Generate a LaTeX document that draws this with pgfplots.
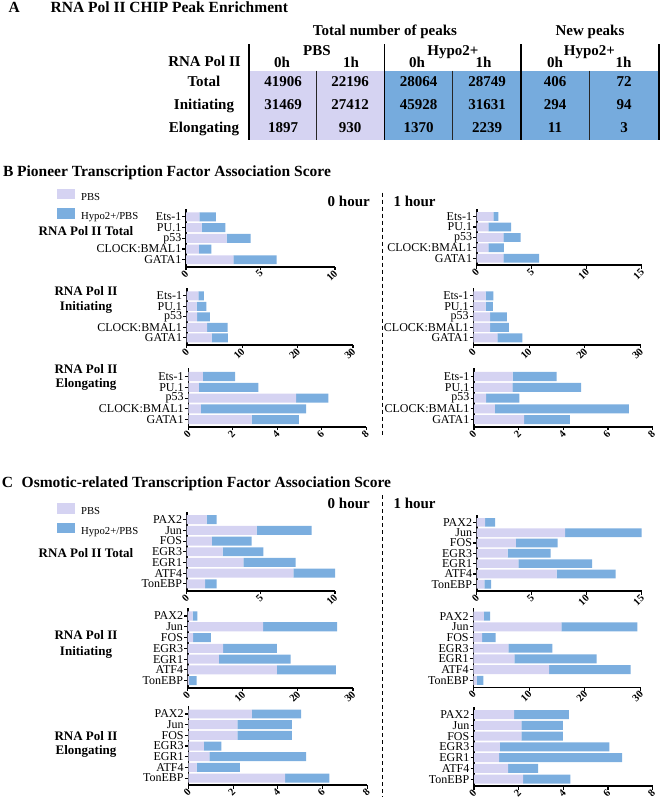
\documentclass[border=0pt]{standalone}
\usepackage{fontspec}
\setmainfont{Liberation Serif}
\usepackage{pgfplots}
\usepackage{pgfplotstable}
\pgfplotsset{compat=1.18}

\definecolor{pbs}{HTML}{D5D3F2}
\definecolor{hyp}{HTML}{7BAEDF}
\definecolor{cellpbs}{HTML}{D5D3F2}
\definecolor{cellhyp}{HTML}{76ABDD}

\newcommand{\fs}[1]{\fontsize{#1bp}{#1bp}\selectfont}

% pioneer factors, idx 0 = bottom bar (GATA1)
\pgfplotstableread{
idx pbs hyp
4 0.89 1.12
3 1.05 1.59
2 2.73 1.61
1 0.87 0.83
0 3.18 2.91
}\bTzero
\pgfplotstableread{
idx pbs hyp
4 1.52 0.45
3 1.06 2.06
2 2.42 1.58
1 1.06 1.42
0 2.42 3.25
}\bTone
\pgfplotstableread{
idx pbs hyp
4 2.1 1.0
3 1.8 1.75
2 1.9 2.3
1 3.7 3.7
0 4.5 2.95
}\bIzero
\pgfplotstableread{
idx pbs hyp
4 2.2 1.4
3 2.2 1.3
2 3.0 3.0
1 3.0 3.4
0 4.3 4.5
}\bIone
\pgfplotstableread{
idx pbs hyp
4 0.65 1.45
3 0.48 2.67
2 4.85 1.45
1 0.56 4.74
0 2.85 2.12
}\bEzero
\pgfplotstableread{
idx pbs hyp
4 1.73 1.97
3 1.72 3.08
2 0.54 1.49
1 0.93 6.00
0 2.24 2.05
}\bEone

% osmotic factors, idx 0 = bottom bar (TonEBP)
\pgfplotstableread{
idx pbs hyp
6 1.35 0.67
5 4.72 3.71
4 1.69 2.69
3 2.43 2.74
2 3.82 3.53
1 7.19 2.81
0 1.24 0.78
}\cTzero
\pgfplotstableread{
idx pbs hyp
6 0.76 0.91
5 8.03 6.97
4 3.55 3.81
3 2.82 3.91
2 3.79 6.71
1 7.27 5.37
0 0.70 0.60
}\cTone
\pgfplotstableread{
idx pbs hyp
6 0.9 0.85
5 13.7 13.4
4 1.0 3.2
3 6.45 9.75
2 5.66 13.04
1 16.2 10.7
0 0.24 1.39
}\cIzero
\pgfplotstableread{
idx pbs hyp
6 1.9 1.1
5 15.8 13.6
4 1.6 2.4
3 6.3 7.9
2 7.35 14.75
1 13.6 14.6
0 0.6 1.2
}\cIone
\pgfplotstableread{
idx pbs hyp
6 2.84 2.20
5 2.19 2.44
4 2.19 2.44
3 0.70 0.78
2 0.94 4.33
1 0.37 1.94
0 4.33 1.98
}\cEzero
\pgfplotstableread{
idx pbs hyp
6 1.80 2.45
5 2.12 1.86
4 2.12 1.86
3 1.16 4.90
2 1.13 5.50
1 1.53 1.34
0 2.20 2.11
}\cEone

\pgfplotsset{
  hbar/.style={
    xbar stacked, scale only axis, anchor=south west, clip=false,
    xmin=0, enlargelimits=false,
    axis x line*=bottom, axis y line*=left,
    axis line style={line width=1.6bp},
    tick align=outside, major tick length=3.5bp,
    major tick style={line width=1.1bp, black},
    bar width=0.84,
    /pgf/number format/assume math mode=true,
    xticklabel style={font=\bfseries\fs{10.5}, rotate=45, anchor=north east,
      inner sep=0.5bp, yshift=2.5bp},
    yticklabel style={font=\fs{12}, inner sep=1bp},
  },
  pio/.style={hbar, ymin=-0.65, ymax=4.75, ytick={0,...,4},
    yticklabels={GATA1, CLOCK:BMAL1, p53, PU.1, Ets-1}},
  osm/.style={hbar, ymin=-0.65, ymax=6.75, ytick={0,...,6},
    yticklabels={TonEBP, ATF4, EGR1, EGR3, FOS, Jun, PAX2}},
  swatch/.style={
    legend image code/.code={\fill[##1] (0bp,-2bp) rectangle (18bp,8.7bp);},
    legend style={draw=none, fill=none, font=\fs{10.7}, inner sep=0pt,
      row sep=4.5bp, cells={anchor=west},
      /tikz/every odd column/.append style={column sep=4bp}},
  },
}

\begin{document}
\begin{tikzpicture}
\path[use as bounding box] (0,0) rectangle (660bp,-799bp);

% ---------- A: table ----------
\fill[cellpbs] (250bp,-70.7bp) rectangle (384.5bp,-140bp);
\fill[cellhyp] (384.5bp,-70.7bp) rectangle (658.5bp,-140bp);
\foreach \x in {316,452.7,589.3}
  \draw[line width=0.8bp, black!85] (\x bp,-70.7bp) -- (\x bp,-140bp);
\foreach \x in {248.7,384.5,521,658.8}
  \draw[line width=1.8bp] (\x bp,-44bp) -- (\x bp,-140bp);

\begin{scope}[every node/.style={font=\bfseries\fs{15.5}, inner sep=0pt, anchor=base}]
\node[anchor=base west] at (8.4bp,-12.5bp) {A};
\node[anchor=base west] at (50.5bp,-12.5bp) {RNA Pol II CHIP Peak Enrichment};
\end{scope}
\begin{scope}[every node/.style={font=\bfseries\fs{15}, inner sep=0pt, anchor=base}]
\node at (385bp,-35bp) {Total number of peaks};
\node at (590bp,-35bp) {New peaks};
\node at (317bp,-55bp) {PBS};
\node at (453bp,-55bp) {Hypo2+};
\node at (589.5bp,-55bp) {Hypo2+};
\node[anchor=base east] at (241bp,-66.7bp) {RNA Pol II};
\foreach \x/\t in {282/0h,351/1h,417/0h,483.5/1h,555/0h,623.5/1h}
  \node at (\x bp,-67.7bp) {\t};
\node at (204bp,-86.7bp) {Total};
\node at (204bp,-109.3bp) {Initiating};
\node at (204bp,-132bp) {Elongating};
\foreach \x/\a/\b/\c in {283/41906/31469/1897, 350/22196/27412/930,
    418.6/28064/45928/1370, 487/28749/31631/2239,
    555/406/294/11, 624/72/94/3} {
  \node at (\x bp,-86.7bp) {\a};
  \node at (\x bp,-109.3bp) {\b};
  \node at (\x bp,-132bp) {\c};
}
\end{scope}

% ---------- B / C headings ----------
\begin{scope}[every node/.style={font=\bfseries\fs{15.5}, inner sep=0pt, anchor=base west}]
\node at (3bp,-176bp) {B};
\node at (17bp,-176bp) {Pioneer Transcription Factor Association Score};
\node at (1.7bp,-487.3bp) {C};
\node at (21.5bp,-487.3bp) {Osmotic-related Transcription Factor Association Score};
\end{scope}
\begin{scope}[every node/.style={font=\bfseries\fs{15}, inner sep=0pt}]
\node[anchor=base east] at (370bp,-206.7bp) {0 hour};
\node[anchor=base west] at (393.3bp,-206.7bp) {1 hour};
\node[anchor=base east] at (370bp,-508.3bp) {0 hour};
\node[anchor=base west] at (393.3bp,-508.3bp) {1 hour};
\end{scope}
\draw[line width=1.1bp, dash pattern=on 4bp off 3bp] (382.7bp,-192.7bp) -- (382.7bp,-436bp);
\draw[line width=1.1bp, dash pattern=on 4bp off 3bp] (382.7bp,-495bp) -- (382.7bp,-797bp);

\begin{scope}[every node/.style={font=\bfseries\fs{13}, inner sep=0pt, anchor=base}]
\node at (86bp,-235.7bp) {RNA Pol II Total};
\node at (86bp,-295bp) {RNA Pol II};
\node at (86bp,-310bp) {Initiating};
\node at (86bp,-373.3bp) {RNA Pol II};
\node at (86bp,-387.3bp) {Elongating};
\node at (86bp,-557.3bp) {RNA Pol II Total};
\node at (86bp,-639.3bp) {RNA Pol II};
\node at (86bp,-655bp) {Initiating};
\node at (86bp,-740bp) {RNA Pol II};
\node at (86bp,-754.3bp) {Elongating};
\end{scope}

% ---------- B: pioneer factors ----------
\begin{axis}[pio, swatch, at={(186bp,-266.7bp)}, width=149bp, height=57.8bp,
  xmax=10, xtick={0,5,10},
  legend style={at={(axis description cs:-0.866,1.353)}, anchor=north west}]
\addplot[fill=pbs, draw=none] table[x=pbs, y=idx]{\bTzero};
\addplot[fill=hyp, draw=none] table[x=hyp, y=idx]{\bTzero};
\legend{PBS, Hypo2+/PBS}
\end{axis}
\begin{axis}[pio, at={(476.7bp,-265bp)}, width=165bp, height=56.2bp,
  xmax=15, xtick={0,5,10,15}]
\addplot[fill=pbs, draw=none] table[x=pbs, y=idx]{\bTone};
\addplot[fill=hyp, draw=none] table[x=hyp, y=idx]{\bTone};
\end{axis}
\begin{axis}[pio, at={(186.7bp,-344.7bp)}, width=166.3bp, height=56.7bp,
  xmax=30, xtick={0,10,20,30}]
\addplot[fill=pbs, draw=none] table[x=pbs, y=idx]{\bIzero};
\addplot[fill=hyp, draw=none] table[x=hyp, y=idx]{\bIzero};
\end{axis}
\begin{axis}[pio, at={(473.3bp,-344.7bp)}, width=167.3bp, height=56.7bp,
  xmax=30, xtick={0,10,20,30}]
\addplot[fill=pbs, draw=none] table[x=pbs, y=idx]{\bIone};
\addplot[fill=hyp, draw=none] table[x=hyp, y=idx]{\bIone};
\end{axis}
\begin{axis}[pio, at={(188.3bp,-426.7bp)}, width=178bp, height=58.3bp,
  xmax=8, xtick={0,2,4,6,8}]
\addplot[fill=pbs, draw=none] table[x=pbs, y=idx]{\bEzero};
\addplot[fill=hyp, draw=none] table[x=hyp, y=idx]{\bEzero};
\end{axis}
\begin{axis}[pio, at={(474bp,-426.7bp)}, width=178.7bp, height=58.3bp,
  xmax=8, xtick={0,2,4,6,8}]
\addplot[fill=pbs, draw=none] table[x=pbs, y=idx]{\bEone};
\addplot[fill=hyp, draw=none] table[x=hyp, y=idx]{\bEone};
\end{axis}

% ---------- C: osmotic-related factors ----------
\begin{axis}[osm, swatch, at={(186.7bp,-590.7bp)}, width=148.3bp, height=79bp,
  xmax=10, xtick={0,5,10},
  legend style={at={(axis description cs:-0.875,1.11)}, anchor=north west}]
\addplot[fill=pbs, draw=none] table[x=pbs, y=idx]{\cTzero};
\addplot[fill=hyp, draw=none] table[x=hyp, y=idx]{\cTzero};
\legend{PBS, Hypo2+/PBS}
\end{axis}
\begin{axis}[osm, at={(476.7bp,-591bp)}, width=165bp, height=76.4bp,
  xmax=15, xtick={0,5,10,15}]
\addplot[fill=pbs, draw=none] table[x=pbs, y=idx]{\cTone};
\addplot[fill=hyp, draw=none] table[x=hyp, y=idx]{\cTone};
\end{axis}
\begin{axis}[osm, at={(187.7bp,-687.7bp)}, width=165.3bp, height=79.8bp,
  xmax=30, xtick={0,10,20,30}]
\addplot[fill=pbs, draw=none] table[x=pbs, y=idx]{\cIzero};
\addplot[fill=hyp, draw=none] table[x=hyp, y=idx]{\cIzero};
\end{axis}
\begin{axis}[osm, at={(473.3bp,-687.3bp)}, width=167.3bp, height=79.2bp,
  xmax=30, xtick={0,10,20,30}]
\addplot[fill=pbs, draw=none] table[x=pbs, y=idx]{\cIone};
\addplot[fill=hyp, draw=none] table[x=hyp, y=idx]{\cIone};
\end{axis}
\begin{axis}[osm, at={(188.3bp,-785bp)}, width=179bp, height=79bp,
  xmax=8, xtick={0,2,4,6,8}]
\addplot[fill=pbs, draw=none] table[x=pbs, y=idx]{\cEzero};
\addplot[fill=hyp, draw=none] table[x=hyp, y=idx]{\cEzero};
\end{axis}
\begin{axis}[osm, at={(474bp,-786.2bp)}, width=178.7bp, height=79.6bp,
  xmax=8, xtick={0,2,4,6,8}]
\addplot[fill=pbs, draw=none] table[x=pbs, y=idx]{\cEone};
\addplot[fill=hyp, draw=none] table[x=hyp, y=idx]{\cEone};
\end{axis}
\end{tikzpicture}
\end{document}
